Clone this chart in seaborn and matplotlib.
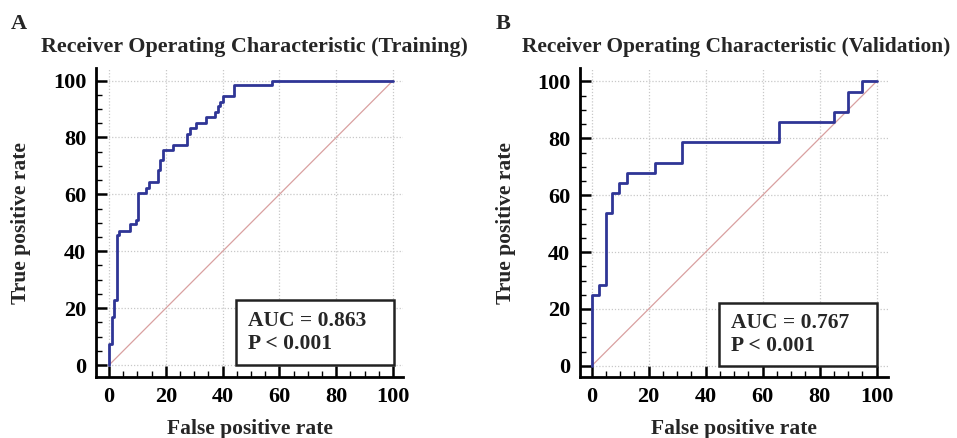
import matplotlib
matplotlib.use("Agg")
import matplotlib.pyplot as plt
import seaborn as sns
import pandas as pd
from matplotlib.patches import Rectangle
from matplotlib.ticker import MultipleLocator

# ---- data ----
train_fpr = [0, 0, 0.9, 1.9, 2.7, 3.5, 7.4, 9.5, 10.3, 13.0, 14.2, 17.1, 17.9, 18.9,
             22.5, 27.5, 28.5, 30.6, 34.3, 37.3, 38.2, 39.0, 40.0, 44.0, 57.3, 100]
train_tpr = [0, 7.4, 17.0, 22.9, 45.7, 47.2, 49.4, 51.0, 60.4, 62.4, 64.4, 68.6, 72.1, 75.6,
             77.5, 81.2, 83.2, 85.2, 87.1, 88.9, 90.9, 92.6, 94.7, 98.6, 100, 100]
val_fpr = [0, 0, 2.6, 5.0, 7.3, 9.7, 12.4, 22.2, 31.8, 65.7, 85.1, 90.1, 95.0, 100]
val_tpr = [0, 25.0, 28.6, 53.6, 60.7, 64.3, 67.9, 71.4, 78.6, 85.7, 89.3, 96.4, 100, 100]
panel_letters = ["A", "B"]
titles = ["Receiver Operating Characteristic (Training)",
          "Receiver Operating Characteristic (Validation)"]
auc_texts = ["AUC = 0.863\nP < 0.001", "AUC = 0.767\nP < 0.001"]
ticks = [0, 20, 40, 60, 80, 100]

sns.set_theme(style="white")
plt.rcParams["font.family"] = ["Liberation Serif", "DejaVu Serif"]
plt.rcParams["font.weight"] = "bold"

W, H = 957, 438
fig = plt.figure(figsize=(W / 100, H / 100), dpi=100)

axes_px = [(96, 68, 307, 309), (580, 68, 308, 309)]  # left, top, width, height in pixels
xlims = [(-4.6, 103.5), (-4.1, 104.0)]
ylims = [(-4.2, 104.4), (-3.9, 104.7)]
boxes = [(44.6, 0, 55.8, 22.8), (44.7, 0, 55.3, 22.0)]
letter_x = [11, 496]
ylabel_x = [21, 506]
title_cx = [254, 736]
title_fs = [15.8, 15.4]

curves = [(train_fpr, train_tpr), (val_fpr, val_tpr)]

for i in range(2):
    l, t, w, h = axes_px[i]
    ax = fig.add_axes([l / W, 1 - (t + h) / H, w / W, h / H])
    fpr, tpr = curves[i]
    df = pd.DataFrame({"fpr": fpr, "tpr": tpr})
    ax.plot([0, 100], [0, 100], color="#d9a0a0", lw=0.9, zorder=2)
    sns.lineplot(data=df, x="fpr", y="tpr", sort=False, estimator=None, ax=ax,
                 color="#2f3596", lw=2.0, drawstyle="steps-post", zorder=4)
    ax.set_xlim(*xlims[i])
    ax.set_ylim(*ylims[i])
    ax.set_xticks(ticks)
    ax.set_yticks(ticks)
    ax.xaxis.set_minor_locator(MultipleLocator(5))
    ax.yaxis.set_minor_locator(MultipleLocator(5))
    ax.tick_params(which="major", direction="in", length=8, width=1.8, colors="black",
                   labelsize=16, pad=7, bottom=True, left=True)
    ax.tick_params(which="minor", direction="in", length=4, width=1.0, colors="black",
                   bottom=True, left=True)
    for lab in ax.get_xticklabels() + ax.get_yticklabels():
        lab.set_fontweight("bold")
    ax.grid(True, which="major", color="#c8c8c8", linestyle=(0, (1, 1.5)), lw=0.9)
    for s in ["top", "right"]:
        ax.spines[s].set_visible(False)
    for s in ["left", "bottom"]:
        ax.spines[s].set_color("black")
        ax.spines[s].set_linewidth(2.0)
    ax.set_xlabel("")
    ax.set_ylabel("")
    bx, by, bw, bh = boxes[i]
    ax.add_patch(Rectangle((bx, by), bw, bh, facecolor="white", edgecolor="#222222",
                           lw=1.8, zorder=5))
    ax.text(bx + 4.3, by + bh / 2, auc_texts[i], fontsize=15.5, fontweight="bold",
            va="center", ha="left", linespacing=1.2, zorder=6)
    fig.text(title_cx[i] / W, 1 - 47 / H, titles[i], ha="center", va="center",
             fontsize=title_fs[i], fontweight="bold")
    fig.text(letter_x[i] / W, 1 - 24 / H, panel_letters[i], ha="left", va="center",
             fontsize=16, fontweight="bold")
    fig.text((l + w / 2) / W, 1 - 429 / H, "False positive rate", ha="center", va="center",
             fontsize=15.5, fontweight="bold")
    fig.text(ylabel_x[i] / W, 1 - 223 / H, "True positive rate", ha="center", va="center",
             fontsize=15.5, fontweight="bold", rotation=90)

fig.savefig("out.png", dpi=100)
